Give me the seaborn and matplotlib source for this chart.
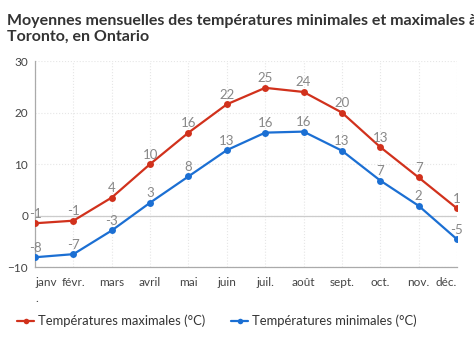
import numpy as np
import pandas as pd
import seaborn as sns
import matplotlib.pyplot as plt
from matplotlib.lines import Line2D

mois = ['janv\n.', 'févr.', 'mars', 'avril', 'mai', 'juin', 'juil.', 'août',
        'sept.', 'oct.', 'nov.', 'déc.']
t_max = [-1.5, -1.0, 3.5, 10.0, 16.1, 21.6, 24.8, 24.0, 20.0, 13.3, 7.4, 1.4]
t_min = [-8.1, -7.5, -2.9, 2.5, 7.6, 12.7, 16.1, 16.3, 12.6, 6.8, 1.9, -4.6]
lab_max = ['-1', '-1', '4', '10', '16', '22', '25', '24', '20', '13', '7', '1']
lab_min = ['-8', '-7', '-3', '3', '8', '13', '16', '16', '13', '7', '2', '-5']
series = ['Températures maximales (°C)', 'Températures minimales (°C)']
couleurs = ['#d1311c', '#1b6fd3']

df = pd.DataFrame({
    'x': list(range(12)) * 2,
    'temp': t_max + t_min,
    'serie': [series[0]] * 12 + [series[1]] * 12,
})

sns.set_style('white')
plt.rcParams['font.family'] = ['Lato', 'DejaVu Sans']

fig = plt.figure(figsize=(4.74, 3.45), dpi=100)
ax = fig.add_axes([0.074, 0.226, 0.890, 0.597])

sns.lineplot(data=df, x='x', y='temp', hue='serie', palette=couleurs,
             marker='o', markersize=5, markeredgewidth=0, linewidth=1.6,
             legend=False, ax=ax, zorder=3)

for vals, labs in [(t_max, lab_max), (t_min, lab_min)]:
    for i, (v, l) in enumerate(zip(vals, labs)):
        ax.annotate(l, (i, v), xytext=(0, 2.5), textcoords='offset points',
                    ha='center', va='bottom', fontsize=9.5, color='#888888', zorder=4)

ax.set_xlim(0, 11)
ax.set_ylim(-10, 30)
ax.set_yticks([-10, 0, 10, 20, 30])
ax.set_xticks(range(12))
ax.set_xticklabels(mois, fontsize=8.5, color='#444444', linespacing=1.6)
labs = ax.get_xticklabels()
labs[0].set_ha('left')
labs[-1].set_ha('right')
ax.tick_params(axis='y', labelsize=8.5, labelcolor='#444444', length=4, color='#aaaaaa', width=0.8, pad=1)
ax.tick_params(axis='x', length=4, color='#aaaaaa', width=0.8, pad=3)
ax.set_xlabel('')
ax.set_ylabel('')

ax.grid(True, axis='both', color='#e6e6e6', linestyle=':', linewidth=0.8)
ax.axhline(0, color='#cccccc', linewidth=0.9, zorder=1)
for s in ['top', 'right']:
    ax.spines[s].set_visible(False)
for s in ['left', 'bottom']:
    ax.spines[s].set_color('#aaaaaa')
    ax.spines[s].set_linewidth(0.9)

fig.text(0.015, 0.96, 'Moyennes mensuelles des températures minimales et maximales à\nToronto, en Ontario',
         fontsize=11.5, fontweight='bold', color='#333333', va='top', ha='left', linespacing=1.2)

handles = [Line2D([0], [0], color=c, marker='o', markersize=4, markeredgewidth=0, linewidth=1.6)
           for c in couleurs]
fig.legend(handles, series, loc='center left', bbox_to_anchor=(0.036, 0.07), ncol=2,
           frameon=False, fontsize=9.4, handlelength=1.3, handletextpad=0.3,
           columnspacing=2.0, labelcolor='#333333', borderaxespad=0, borderpad=0)

fig.savefig('out.png', dpi=100)
